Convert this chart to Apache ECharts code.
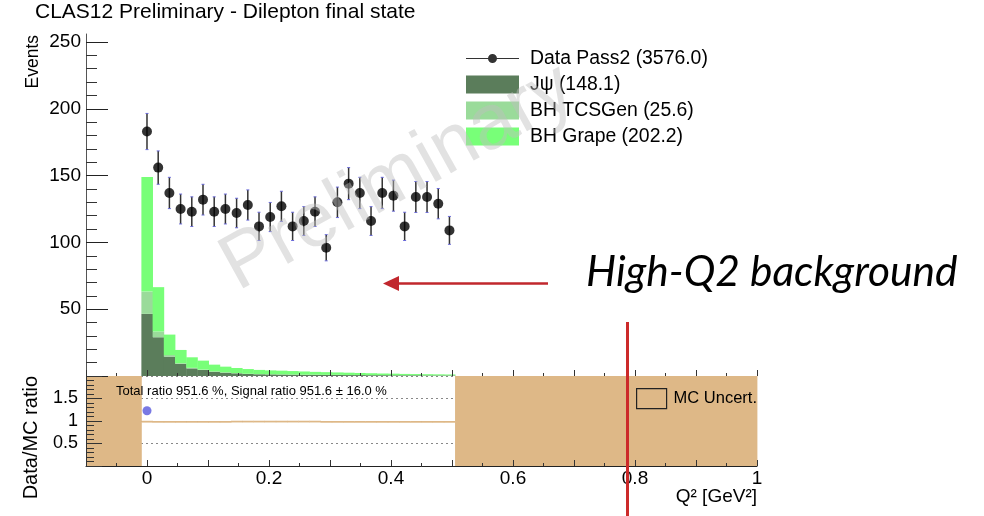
<!DOCTYPE html>
<html>
<head>
<meta charset="utf-8">
<script src="https://cdn.jsdelivr.net/npm/echarts@6/dist/echarts.min.js"></script>
<style>
  html, body { margin: 0; padding: 0; background: #fff; }
  #chart { width: 984px; height: 516px; }
</style>
</head>
<body>
<div id="chart"></div>
<script>
// Q^2 binning of all histograms (GeV^2)
const binLow = -0.0092;
const binHigh = 0.505;
const nBins = 28;

// Data Pass2 event counts per bin
const dataCounts = [183, 156, 137, 125, 123, 132, 123, 125, 122, 128, 112, 119, 127, 112,
                    116, 123, 96, 130, 144, 137, 116, 137, 135, 112, 134, 134, 129, 109];

// Monte Carlo templates, stacked from bottom to top
const jpsiCounts = [46.5, 29, 14.5, 9, 5.7, 4.5, 3.2, 2.5, 2, 1.5, 1.3, 1.2, 1.1, 1.0,
                    0.9, 0.9, 0.8, 0.8, 0.7, 0.7, 0.6, 0.6, 0.5, 0.5, 0.5, 0.4, 0.4, 0.4];
const tcsgenCounts = [16.7, 4.3, 1.2, 0.6, 0.4, 0.3, 0.2, 0.2, 0.15, 0.15, 0.1, 0.1, 0.1, 0.1,
                      0.1, 0.1, 0.08, 0.08, 0.08, 0.07, 0.07, 0.07, 0.06, 0.06, 0.06, 0.05, 0.05, 0.05];
const grapeCounts = [85.8, 33.2, 15.3, 9.9, 7.9, 6.7, 5.1, 4.3, 3.85, 3.55, 3.15, 2.9, 2.8, 2.6,
                     2.4, 2.1, 2.0, 1.8, 1.7, 1.5, 1.4, 1.2, 1.2, 1.0, 0.9, 0.9, 0.8, 0.7];

// MC uncertainty band on the ratio (lower / upper edge per bin)
const mcBandLow = [0.965, 0.962, 0.962, 0.962, 0.962, 0.962, 0.962, 0.962, 0.968, 0.968, 0.968, 0.968, 0.968, 0.968,
                   0.968, 0.968, 0.962, 0.962, 0.962, 0.962, 0.962, 0.962, 0.962, 0.962, 0.962, 0.962, 0.962, 0.962];
const mcBandHigh = [1.005, 1.0, 1.0, 1.0, 1.0, 1.0, 1.0, 1.0, 1.006, 1.006, 1.006, 1.006, 1.006, 1.006,
                    1.006, 1.006, 1.0, 1.0, 1.0, 1.0, 1.0, 1.0, 1.0, 1.0, 1.0, 1.0, 1.0, 1.0];

// Legend labels (integrals)
const dataLabel = 'Data Pass2 (3576.0)';
const jpsiLabel = 'J\u03c8 (148.1)';
const tcsgenLabel = 'BH TCSGen (25.6)';
const grapeLabel = 'BH Grape (202.2)';
const bandLabel = 'MC Uncert.';
const statsText = 'Total ratio 951.6 %, Signal ratio 951.6 \u00b1 16.0 %';

// Axis ranges and ticks
const xRange = [-0.1, 1];
const yRange = [0, 256];
const ratioRange = [0, 2];
const yMajorTicks = [0, 50, 100, 150, 200, 250];
const yLabelTicks = [50, 100, 150, 200, 250];
const yMinorTicks = [10, 20, 30, 40, 60, 70, 80, 90, 110, 120, 130, 140, 160, 170, 180, 190, 210, 220, 230, 240];

const FONT = 'Liberation Sans, Arial, sans-serif';
const binWidth = (binHigh - binLow) / nBins;
const edge = i => binLow + i * binWidth;
const center = i => binLow + (i + 0.5) * binWidth;

// stacked rectangles [x0, x1, yBottom, yTop]
const base1 = jpsiCounts.slice();
const base2 = jpsiCounts.map((v, i) => v + tcsgenCounts[i]);
const mcTotal = base2.map((v, i) => v + grapeCounts[i]);
const rectsJpsi = jpsiCounts.map((v, i) => [edge(i), edge(i + 1), 0, v]);
const rectsTcs = tcsgenCounts.map((v, i) => [edge(i), edge(i + 1), base1[i], base1[i] + v]);
const rectsGrape = grapeCounts.map((v, i) => [edge(i), edge(i + 1), base2[i], base2[i] + v]);

const dataPoints = dataCounts.map((v, i) => [center(i), v]);
const dataErrors = dataCounts.map((v, i) => [center(i), v - Math.sqrt(v), v + Math.sqrt(v)]);
const ratioPoints = dataCounts.map((v, i) => [center(i), v / mcTotal[i]]);

// MC uncertainty: thin band where MC is filled, full range where MC is empty
const bandRects = [[xRange[0], binLow, ratioRange[0], ratioRange[1]]]
  .concat(mcBandLow.map((lo, i) => [edge(i), edge(i + 1), lo, mcBandHigh[i]]))
  .concat([[binHigh, xRange[1], ratioRange[0], ratioRange[1]]]);

function rectRenderer(color) {
  return function (params, api) {
    const p0 = api.coord([api.value(0), api.value(2)]);
    const p1 = api.coord([api.value(1), api.value(3)]);
    return {
      type: 'rect',
      shape: { x: p0[0], y: p1[1], width: p1[0] - p0[0] + 0.4, height: p0[1] - p1[1] },
      style: { fill: color }
    };
  };
}

function errorRenderer(params, api) {
  const x = api.value(0);
  const pLo = api.coord([x, api.value(1)]);
  const pHi = api.coord([x, api.value(2)]);
  return {
    type: 'group',
    children: [
      { type: 'line', shape: { x1: pLo[0], y1: pLo[1], x2: pHi[0], y2: pHi[1] },
        style: { stroke: '#333', lineWidth: 1.5 } },
      { type: 'line', shape: { x1: pLo[0] - 1.5, y1: pLo[1], x2: pLo[0] + 1.5, y2: pLo[1] },
        style: { stroke: '#6a6ad8', lineWidth: 1 } },
      { type: 'line', shape: { x1: pHi[0] - 1.5, y1: pHi[1], x2: pHi[0] + 1.5, y2: pHi[1] },
        style: { stroke: '#6a6ad8', lineWidth: 1 } }
    ]
  };
}

const COLORS = { jpsi: '#5b7d5b', tcs: '#9adb9a', grape: '#78ff78', band: '#deb887' };

const dataIcon = 'path://M0,0h0.01v0.01h-0.01z M53,18h-0.01v-0.01h0.01z M0,8.5h53v1h-53z ' +
                 'M31,9a4.5,4.5 0 1,1 -9,0a4.5,4.5 0 1,1 9,0z';

const xLabelFormatter = v => {
  const k = Math.round(v * 10);
  return (k >= 0 && k % 2 === 0) ? String(+v.toFixed(1)) : '';
};

const chart = echarts.init(document.getElementById('chart'), null, { renderer: 'canvas' });

chart.setOption({
  backgroundColor: '#ffffff',
  animation: false,
  textStyle: { fontFamily: FONT },
  title: {
    text: 'CLAS12 Preliminary - Dilepton final state',
    left: 35, top: 2, padding: 0,
    textStyle: { fontSize: 21, fontWeight: 'normal', color: '#000', fontFamily: FONT }
  },
  legend: [
    {
      orient: 'vertical', left: 466, top: 49, padding: 0, itemGap: 7,
      itemWidth: 53, itemHeight: 18,
      textStyle: { fontSize: 19.4, color: '#000', fontFamily: FONT, padding: [0, 0, 0, 6] },
      data: [
        { name: dataLabel, icon: dataIcon },
        { name: jpsiLabel, icon: 'rect' },
        { name: tcsgenLabel, icon: 'rect' },
        { name: grapeLabel, icon: 'rect' }
      ],
      selectedMode: false
    },
    {
      left: 636, top: 388, padding: 0,
      itemWidth: 30, itemHeight: 20,
      textStyle: { fontSize: 16.5, color: '#000', fontFamily: FONT, padding: [0, 0, 0, 2] },
      itemStyle: { borderColor: '#222', borderWidth: 1.2 },
      data: [{ name: bandLabel, icon: 'rect' }],
      selectedMode: false
    }
  ],
  grid: [
    { left: 86, right: 227, top: 34, height: 342, outerBoundsMode: 'none', containLabel: false },
    { left: 86, right: 227, top: 376, height: 90, outerBoundsMode: 'none', containLabel: false }
  ],
  xAxis: [
    {
      type: 'value', gridIndex: 0, min: xRange[0], max: xRange[1], interval: 0.1, z: 3,
      axisLine: { show: false, onZero: false },
      axisTick: { show: true, inside: true, length: 6, lineStyle: { color: '#333' } },
      minorTick: { show: true, splitNumber: 2, length: 3, lineStyle: { color: '#333' } },
      axisLabel: { show: false },
      splitLine: { show: false }
    },
    {
      type: 'value', gridIndex: 1, min: xRange[0], max: xRange[1], interval: 0.1, z: 3,
      axisLine: { show: true, onZero: false, lineStyle: { color: '#222', width: 1 } },
      axisTick: { show: true, inside: true, length: 6, lineStyle: { color: '#333' } },
      minorTick: { show: true, splitNumber: 2, length: 3, lineStyle: { color: '#333' } },
      axisLabel: { fontSize: 19, color: '#000', margin: 3, fontFamily: FONT, formatter: xLabelFormatter },
      splitLine: { show: false },
      name: 'Q\u00b2 [GeV\u00b2]', nameLocation: 'end', nameGap: 0, nameMoveOverlap: false,
      nameTextStyle: { fontSize: 19, color: '#000', align: 'right', verticalAlign: 'top',
                       padding: [21, 0, 0, 0], fontFamily: FONT }
    }
  ],
  yAxis: [
    {
      type: 'value', gridIndex: 0, position: 'left', min: yRange[0], max: yRange[1], z: 3,
      axisLine: { show: true, onZero: false, lineStyle: { color: '#555', width: 1 } },
      axisTick: { show: true, inside: true, length: 22, customValues: yMajorTicks, lineStyle: { color: '#222' } },
      axisLabel: { fontSize: 19, color: '#000', margin: 5, customValues: yLabelTicks, fontFamily: FONT },
      splitLine: { show: false },
      name: 'Events', nameLocation: 'end', nameGap: -1, nameRotate: 90, nameMoveOverlap: false,
      nameTextStyle: { fontSize: 17.5, color: '#000', align: 'right', verticalAlign: 'bottom',
                       padding: [0, 0, 44, 0], fontFamily: FONT }
    },
    {
      type: 'value', gridIndex: 0, position: 'left', min: yRange[0], max: yRange[1], z: 3,
      axisLine: { show: false, onZero: false },
      axisTick: { show: true, inside: true, length: 11, customValues: yMinorTicks, lineStyle: { color: '#333' } },
      axisLabel: { show: false },
      splitLine: { show: false }
    },
    {
      type: 'value', gridIndex: 1, position: 'left', min: ratioRange[0], max: ratioRange[1], interval: 0.5, z: 3,
      axisLine: { show: true, onZero: false, lineStyle: { color: '#333', width: 1 } },
      axisTick: { show: true, inside: true, length: 16, lineStyle: { color: '#333' } },
      minorTick: { show: true, splitNumber: 5, length: 8, lineStyle: { color: '#333' } },
      axisLabel: {
        fontSize: 18, color: '#000', margin: 8, fontFamily: FONT,
        formatter: v => (v <= 0 || v >= 2) ? '' : String(v)
      },
      splitLine: { show: false },
      name: 'Data/MC ratio', nameLocation: 'end', nameGap: 0, nameRotate: 90, nameMoveOverlap: false,
      nameTextStyle: { fontSize: 20, color: '#000', align: 'right', verticalAlign: 'bottom',
                       padding: [0, 0, 45, 0], fontFamily: FONT }
    },
    {
      // dotted reference lines of the ratio panel, kept beneath the uncertainty band
      type: 'value', gridIndex: 1, position: 'left', min: ratioRange[0], max: ratioRange[1], interval: 0.5, z: 0,
      axisLine: { show: false, onZero: false },
      axisTick: { show: false },
      axisLabel: { show: false },
      splitLine: { show: true, lineStyle: { color: '#888', type: [2, 3], width: 1 } }
    }
  ],
  series: [
    {
      name: jpsiLabel, type: 'custom', xAxisIndex: 0, yAxisIndex: 0,
      renderItem: rectRenderer(COLORS.jpsi), itemStyle: { color: COLORS.jpsi },
      encode: { x: [0, 1], y: [2, 3] }, data: rectsJpsi, z: 2
    },
    {
      name: tcsgenLabel, type: 'custom', xAxisIndex: 0, yAxisIndex: 0,
      renderItem: rectRenderer(COLORS.tcs), itemStyle: { color: COLORS.tcs },
      encode: { x: [0, 1], y: [2, 3] }, data: rectsTcs, z: 2
    },
    {
      name: grapeLabel, type: 'custom', xAxisIndex: 0, yAxisIndex: 0,
      renderItem: rectRenderer(COLORS.grape), itemStyle: { color: COLORS.grape },
      encode: { x: [0, 1], y: [2, 3] }, data: rectsGrape, z: 2
    },
    {
      name: 'dataErrors', type: 'custom', xAxisIndex: 0, yAxisIndex: 0,
      renderItem: errorRenderer, encode: { x: 0, y: [1, 2] }, data: dataErrors, z: 4
    },
    {
      name: dataLabel, type: 'scatter', xAxisIndex: 0, yAxisIndex: 0,
      symbol: 'circle', symbolSize: 10, itemStyle: { color: '#000' },
      data: dataPoints, z: 5
    },
    {
      name: bandLabel, type: 'custom', xAxisIndex: 1, yAxisIndex: 2,
      renderItem: rectRenderer(COLORS.band), itemStyle: { color: COLORS.band },
      encode: { x: [0, 1], y: [2, 3] }, data: bandRects, z: 2
    },
    {
      name: 'ratio', type: 'scatter', xAxisIndex: 1, yAxisIndex: 2, clip: true,
      symbol: 'circle', symbolSize: 9, itemStyle: { color: '#5858dc' },
      data: ratioPoints, z: 5
    }
  ],
  graphic: [
    {
      type: 'text', x: 116, y: 391, z: 50,
      style: { text: statsText, fontSize: 13, fill: '#000', fontFamily: FONT, verticalAlign: 'middle' }
    },
    {
      type: 'text', x: 398, y: 178, rotation: 29 * Math.PI / 180, z: 100,
      style: { text: 'Preliminary', fontSize: 78, fill: 'rgba(190,190,190,0.45)', fontFamily: FONT,
               align: 'center', verticalAlign: 'middle' }
    },
    {
      type: 'line', z: 60, shape: { x1: 396, y1: 283.5, x2: 548, y2: 283.5 },
      style: { stroke: '#c1272d', lineWidth: 2.5 }
    },
    {
      type: 'polygon', z: 60, shape: { points: [[383, 283.5], [399, 276], [399, 291]] },
      style: { fill: '#c1272d' }
    },
    {
      type: 'line', z: 60, shape: { x1: 627.5, y1: 322, x2: 627.5, y2: 516 },
      style: { stroke: '#cc2a2a', lineWidth: 3 }
    },
    {
      type: 'text', x: 586, y: 272, z: 60,
      style: { text: 'High-Q2 background', fontSize: 42.5, fontStyle: 'italic', fill: '#000',
               fontFamily: 'Lato, Noto Sans, sans-serif', verticalAlign: 'middle' }
    }
  ]
});
</script>
</body>
</html>
